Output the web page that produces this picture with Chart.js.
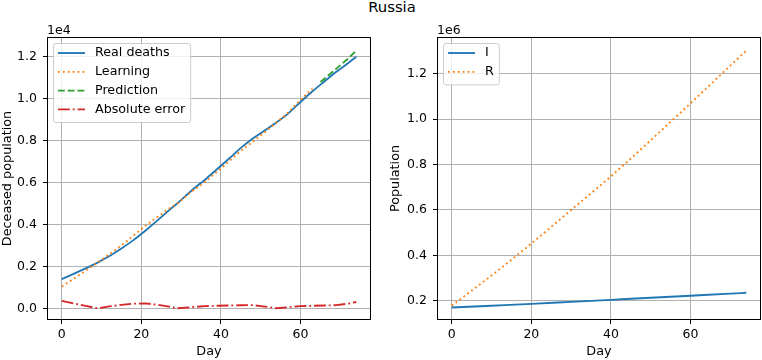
<!DOCTYPE html>
<html>
<head>
<meta charset="utf-8">
<script src="https://cdn.jsdelivr.net/npm/chart.js@4.4.1/dist/chart.umd.min.js"></script>
<style>
    html, body { margin: 0; padding: 0; background: #fff; }
    body { width: 762px; height: 360px; position: relative; overflow: hidden; font-family: 'DejaVu Sans', sans-serif; }
    #titulo { position: absolute; left: 292px; top: -0.5px; width: 200px; text-align: center; font-size: 14.8px; line-height: 1; color: #000; }
    canvas { position: absolute; top: 0; }
    #graficaMuertes { left: 0; }
    #graficaSIR { left: 380px; }
</style>
</head>
<body>
<div id="titulo">Russia</div>
<canvas id="graficaMuertes" width="380" height="360"></canvas>
<canvas id="graficaSIR" width="382" height="360"></canvas>
<script>
// left panel: deaths
const days = [0, 3, 6, 9, 12, 15, 18, 21, 24, 27, 29, 33, 36, 39, 42, 45, 48, 51, 54, 57, 60, 63, 66, 69, 72, 74];
const realDeaths = [1390, 1640, 1900, 2180, 2490, 2850, 3250, 3700, 4180, 4680, 5000, 5680, 6130, 6630, 7130, 7650, 8100, 8480, 8870, 9310, 9840, 10350, 10820, 11280, 11700, 12000];
const absoluteError = [350, 230, 110, 0, 90, 160, 220, 230, 170, 80, 0, 60, 100, 120, 130, 145, 150, 80, 0, 50, 100, 120, 130, 150, 220, 300];

const learningDays = [0, 3, 6, 9, 12, 15, 18, 21, 24, 27, 29, 33, 36, 39, 42, 45, 48, 51, 54, 57, 60, 63];
const learningDeaths = [1040, 1410, 1790, 2180, 2580, 3000, 3460, 3930, 4350, 4760, 5000, 5620, 6030, 6510, 7000, 7505, 7950, 8400, 8870, 9360, 9940, 10470];

const predictionDays = [65, 66, 69, 72, 74];
const predictionDeaths = [10790, 10950, 11430, 11920, 12290];

// right panel: I and R
const sirDays = [0, 10, 20, 30, 40, 50, 60, 70, 74];
const infected = [170000, 178000, 186000, 195000, 204000, 213000, 222000, 231000, 235000];
const recovered = [178000, 311000, 452000, 600000, 748000, 907000, 1070000, 1236000, 1302000];

// ticks
const dayTicks = [0, 20, 40, 60];
const deathTicks = [0, 2000, 4000, 6000, 8000, 10000, 12000];
const deathTickLabels = ['0.0', '0.2', '0.4', '0.6', '0.8', '1.0', '1.2'];
const populationTicks = [200000, 400000, 600000, 800000, 1000000, 1200000];
const populationTickLabels = ['0.2', '0.4', '0.6', '0.8', '1.0', '1.2'];

const fuenteTicks = { family: 'DejaVu Sans', size: 12.5 };
const fuente = { family: 'DejaVu Sans', size: 12.8 };
const LW = 1.85;

function toPoints(xs, ys) {
    return xs.map((x, i) => ({ x, y: ys[i] }));
}

// frame, inside legend and the 1eN offset text
const marcoPlugin = {
    id: 'marco',
    afterDatasetsDraw(chart, args, opts) {
        const { ctx, chartArea: a } = chart;
        ctx.save();

        ctx.strokeStyle = '#000';
        ctx.lineWidth = 1;
        ctx.strokeRect(Math.round(a.left) + 0.5, Math.round(a.top) + 0.5,
            Math.round(a.right - a.left) - 1, Math.round(a.bottom - a.top) - 1);

        ctx.fillStyle = '#000';
        ctx.font = '12.5px "DejaVu Sans"';
        ctx.textBaseline = 'alphabetic';
        ctx.textAlign = 'left';
        ctx.fillText(opts.offsetText, a.left, a.top - 3.5);

        ctx.font = '12.7px "DejaVu Sans"';
        const entries = chart.data.datasets;
        const textW = Math.max(...entries.map(d => ctx.measureText(d.label).width));
        const bx = a.left + 6;
        const by = a.top + 6;
        const bw = 42 + textW + 5;
        const bh = entries.length * 18.8 + 3.8;

        ctx.beginPath();
        ctx.roundRect(bx + 0.5, by + 0.5, bw, bh, 2.5);
        ctx.fillStyle = 'rgba(255,255,255,0.8)';
        ctx.fill();
        ctx.strokeStyle = '#cccccc';
        ctx.stroke();

        entries.forEach((d, i) => {
            const cy = by + 10 + i * 18.8;
            ctx.beginPath();
            ctx.setLineDash(d.borderDash || []);
            ctx.lineCap = 'butt';
            ctx.strokeStyle = d.borderColor;
            ctx.lineWidth = LW;
            ctx.moveTo(bx + 5, cy);
            ctx.lineTo(bx + 32, cy);
            ctx.stroke();
            ctx.setLineDash([]);
            ctx.fillStyle = '#000';
            ctx.textBaseline = 'middle';
            ctx.fillText(d.label, bx + 42, cy);
        });

        ctx.restore();
    }
};

function construirEscalas(yMin, yMax, yTicks, yLabels, yTitle, yTitlePad, yWidth) {
    return {
        x: {
            type: 'linear',
            min: -3.7,
            max: 77.7,
            afterBuildTicks: s => { s.ticks = dayTicks.map(v => ({ value: v })); },
            afterFit: s => { s.height = 40; },
            grid: { color: '#b0b0b0', lineWidth: 1, tickColor: '#000', tickLength: 4, tickWidth: 1 },
            border: { display: false },
            ticks: { color: '#000', font: fuenteTicks, padding: 3, maxRotation: 0, autoSkip: false, callback: v => String(v) },
            title: { display: true, text: 'Day', color: '#000', font: fuente, padding: { top: 0, bottom: 1 } }
        },
        y: {
            type: 'linear',
            min: yMin,
            max: yMax,
            afterBuildTicks: s => { s.ticks = yTicks.map(v => ({ value: v })); },
            afterFit: s => { s.width = yWidth; },
            grid: { color: '#b0b0b0', lineWidth: 1, tickColor: '#000', tickLength: 4, tickWidth: 1 },
            border: { display: false },
            ticks: { color: '#000', font: fuenteTicks, padding: 6, autoSkip: false, callback: (v, i) => yLabels[i] },
            title: { display: true, text: yTitle, color: '#000', font: fuente, padding: { top: yTitlePad, bottom: 0 } }
        }
    };
}

function linea(label, xs, ys, color, dash, order, monotone) {
    return {
        label,
        data: toPoints(xs, ys),
        borderColor: color,
        backgroundColor: color,
        borderWidth: LW,
        borderDash: dash,
        borderCapStyle: 'butt',
        pointRadius: 0,
        fill: false,
        order,
        cubicInterpolationMode: monotone ? 'monotone' : 'default',
        tension: 0
    };
}

new Chart(document.getElementById('graficaMuertes'), {
    type: 'line',
    data: {
        datasets: [
            linea('Real deaths', days, realDeaths, '#1f77b4', [], 4, true),
            linea('Learning', learningDays, learningDeaths, '#ff7f0e', [1.85, 3.05], 3, true),
            linea('Prediction', predictionDays, predictionDeaths, '#2ca02c', [6.8, 2.95], 2, false),
            linea('Absolute error', days, absoluteError, '#d62728', [11.8, 2.95, 1.85, 2.95], 1, false)
        ]
    },
    options: {
        responsive: false,
        animation: false,
        layout: { padding: { top: 37, right: 9, left: 0, bottom: 0 } },
        plugins: { legend: { display: false }, tooltip: { enabled: false }, marco: { offsetText: '1e4' } },
        scales: construirEscalas(-560, 12940, deathTicks, deathTickLabels, 'Deceased population', 0, 47)
    },
    plugins: [marcoPlugin]
});

new Chart(document.getElementById('graficaSIR'), {
    type: 'line',
    data: {
        datasets: [
            linea('I', sirDays, infected, '#1f77b4', [], 2, true),
            linea('R', sirDays, recovered, '#ff7f0e', [1.85, 3.05], 1, true)
        ]
    },
    options: {
        responsive: false,
        animation: false,
        layout: { padding: { top: 37, right: 1, left: 0, bottom: 0 } },
        plugins: { legend: { display: false }, tooltip: { enabled: false }, marco: { offsetText: '1e6' } },
        scales: construirEscalas(115000, 1362000, populationTicks, populationTickLabels, 'Population', 7.6, 57)
    },
    plugins: [marcoPlugin]
});
</script>
</body>
</html>
